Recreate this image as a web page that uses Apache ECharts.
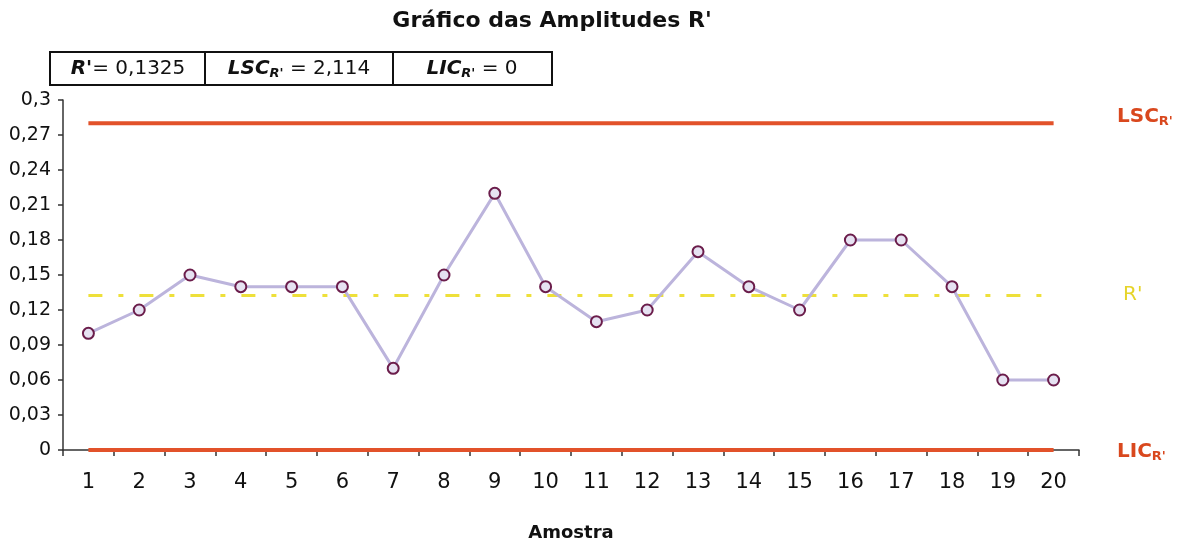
<!DOCTYPE html>
<html><head><meta charset="utf-8">
<script src="https://cdn.jsdelivr.net/npm/echarts@6/dist/echarts.min.js"></script>
<style>html,body{margin:0;padding:0;background:#fff}#c{width:1193px;height:547px}</style>
</head><body><div id="c"></div>
<script>
var categories = ['1','2','3','4','5','6','7','8','9','10','11','12','13','14','15','16','17','18','19','20'];
var amplitudes = [0.10,0.12,0.15,0.14,0.14,0.14,0.07,0.15,0.22,0.14,0.11,0.12,0.17,0.14,0.12,0.18,0.18,0.14,0.06,0.06];
var meanR = 0.1325;
var lsc = 0.28;
var lic = 0;
var yTicks = {min: 0, max: 0.3, interval: 0.03};

var F = 'DejaVu Sans, Verdana, sans-serif';
function flat(v){ return categories.map(function(){ return v; }); }
var chart = echarts.init(document.getElementById('c'), null, {renderer:'canvas'});
chart.setOption({
  backgroundColor:'#fff',
  animation:false,
  grid:{left:63,right:114,top:100,bottom:90},
  title:{text:"Gráfico das Amplitudes R'",left:547,top:5,textAlign:'center',
    textStyle:{fontFamily:F,fontSize:22,fontWeight:'bold',color:'#111'}},
  xAxis:{type:'category',data:categories,boundaryGap:true,
    name:'Amostra',nameLocation:'middle',nameGap:74,
    nameTextStyle:{fontFamily:F,fontSize:18,fontWeight:'bold',color:'#111'},
    axisLine:{lineStyle:{color:'#333',width:1.5}},
    axisTick:{show:true,length:6,inside:false,lineStyle:{color:'#333',width:1.5}},
    axisLabel:{fontFamily:F,fontSize:21,color:'#111',margin:22,interval:0},
    splitLine:{show:false}},
  yAxis:{type:'value',min:yTicks.min,max:yTicks.max,interval:yTicks.interval,
    axisLine:{show:true,lineStyle:{color:'#333',width:1.5}},
    axisTick:{show:true,length:5,lineStyle:{color:'#333',width:1.5}},
    axisLabel:{fontFamily:F,fontSize:19,color:'#111',margin:12,
      formatter:function(v){ return v===0?'0':String(+v.toFixed(2)).replace('.',','); }},
    splitLine:{show:false}},
  series:[
    {type:'line',data:flat(lsc),symbol:'none',lineStyle:{color:'#e2522a',width:4},z:2},
    {type:'line',data:flat(lic),symbol:'none',lineStyle:{color:'#e2522a',width:4},z:2},
    {type:'line',data:flat(meanR),symbol:'none',lineStyle:{color:'#eee03a',width:3,type:[14,16,5,16]},z:2},
    {type:'line',data:amplitudes,symbol:'circle',symbolSize:11,
      lineStyle:{color:'#bcb4dc',width:3},
      itemStyle:{color:'#e6e2f2',borderColor:'#6b1d4b',borderWidth:2},z:5}
  ],
  graphic:[
    {type:'rect',shape:{x:50,y:52,width:502,height:33},style:{fill:'none',stroke:'#111',lineWidth:2}},
    {type:'line',shape:{x1:205,y1:52,x2:205,y2:85},style:{stroke:'#111',lineWidth:2}},
    {type:'line',shape:{x1:393,y1:52,x2:393,y2:85},style:{stroke:'#111',lineWidth:2}},
    {type:'text',x:128,y:69,style:{text:"{b|R'}{n|= 0,1325}",align:'center',verticalAlign:'middle',
      rich:{b:{fontFamily:F,fontSize:20,fontWeight:'bold',fontStyle:'italic',fill:'#111'},
            n:{fontFamily:F,fontSize:20,fill:'#111'}}}},
    {type:'text',x:299,y:69,style:{text:"{b|LSC}{s|R'}{n| = 2,114}",align:'center',verticalAlign:'middle',
      rich:{b:{fontFamily:F,fontSize:20,fontWeight:'bold',fontStyle:'italic',fill:'#111'},
            s:{fontFamily:F,fontSize:13,fontWeight:'bold',fontStyle:'italic',fill:'#111',padding:[10,0,0,0]},
            n:{fontFamily:F,fontSize:20,fill:'#111'}}}},
    {type:'text',x:472,y:69,style:{text:"{b|LIC}{s|R'}{n| = 0}",align:'center',verticalAlign:'middle',
      rich:{b:{fontFamily:F,fontSize:20,fontWeight:'bold',fontStyle:'italic',fill:'#111'},
            s:{fontFamily:F,fontSize:13,fontWeight:'bold',fontStyle:'italic',fill:'#111',padding:[10,0,0,0]},
            n:{fontFamily:F,fontSize:20,fill:'#111'}}}},
    {type:'text',x:1117,y:117,style:{text:"{b|LSC}{s|R'}",verticalAlign:'middle',
      rich:{b:{fontFamily:F,fontSize:20,fontWeight:'bold',fill:'#d9481e'},s:{fontFamily:F,fontSize:13,fontWeight:'bold',fill:'#d9481e',padding:[10,0,0,0]}}}},
    {type:'text',x:1123,y:295,style:{text:"R'",verticalAlign:'middle',fontFamily:F,fontSize:20,fill:'#e6d42a'}},
    {type:'text',x:1117,y:452,style:{text:"{b|LIC}{s|R'}",verticalAlign:'middle',
      rich:{b:{fontFamily:F,fontSize:20,fontWeight:'bold',fill:'#d9481e'},s:{fontFamily:F,fontSize:13,fontWeight:'bold',fill:'#d9481e',padding:[10,0,0,0]}}}}
  ]
});
</script></body></html>
